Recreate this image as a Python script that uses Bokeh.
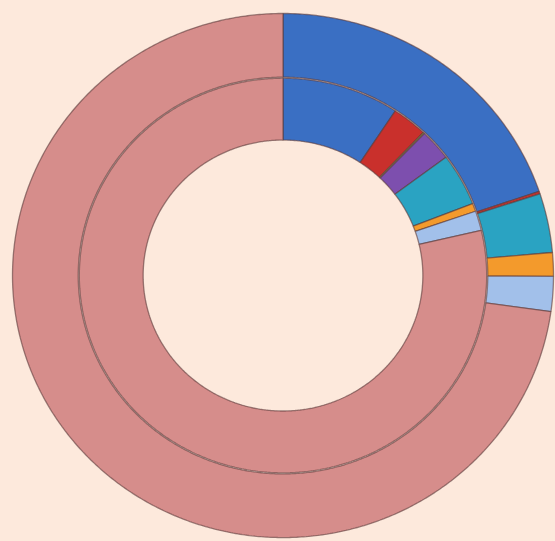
import numpy as np
from bokeh.plotting import figure
from bokeh.models import Range1d, ColumnDataSource
from bokeh.embed import file_html
from bokeh.resources import INLINE

# ---- data (percent shares, clockwise from 12 o'clock) ----
categories = ["Blue", "Red", "Green", "Purple", "Teal", "Orange", "Light blue", "Pink"]
inner_values = [9.3, 2.8, 0.12, 2.55, 4.3, 0.65, 1.6, 78.68]
outer_values = [19.8, 0.15, 0.0, 0.0, 3.65, 1.45, 2.15, 72.8]
colors = ["#3a6fc3", "#c9302c", "#8db04a", "#7d4fae", "#2aa3c2", "#f39a2c", "#a2c0ea", "#d68d8b"]

BG = "#fde9dc"


def ring(values, r_in, r_out):
    vals = np.asarray(values, dtype=float)
    frac = vals / vals.sum()
    ends = np.cumsum(frac)
    starts = ends - frac
    xs, ys, cols, names = [], [], [], []
    for s, e, c, n in zip(starts, ends, colors, categories):
        if e - s <= 0:
            continue
        a0 = np.pi / 2 - 2 * np.pi * s
        a1 = np.pi / 2 - 2 * np.pi * e
        npts = max(3, int((e - s) * 720))
        t = np.linspace(a0, a1, npts)
        x = np.concatenate([r_out * np.cos(t), r_in * np.cos(t[::-1])])
        y = np.concatenate([r_out * np.sin(t), r_in * np.sin(t[::-1])])
        xs.append(list(x))
        ys.append(list(y))
        cols.append(c)
        names.append(n)
    return ColumnDataSource(dict(xs=xs, ys=ys, color=cols, name=names))


p = figure(width=547, height=533, output_backend="svg", toolbar_location=None,
           x_range=Range1d(-1.0148, 1.0074), y_range=Range1d(-1.015, 1.019),
           min_border=0, background_fill_color=BG, border_fill_color=BG)
p.axis.visible = False
p.grid.visible = False
p.outline_line_color = None

outer_src = ring(outer_values, 0.757, 1.0)
inner_src = ring(inner_values, 0.517, 0.753)

for src in (outer_src, inner_src):
    p.patches("xs", "ys", source=src, fill_color="color", line_color="#5b3b3b",
              line_alpha=0.6, line_width=1.3)

html = file_html(p, INLINE)
html = html.replace("</head>",
                    "<style>html,body{background:%s;overflow:hidden}body{margin:8px 0 0 8px}</style></head>" % BG)
open("out.html", "w").write(html)
